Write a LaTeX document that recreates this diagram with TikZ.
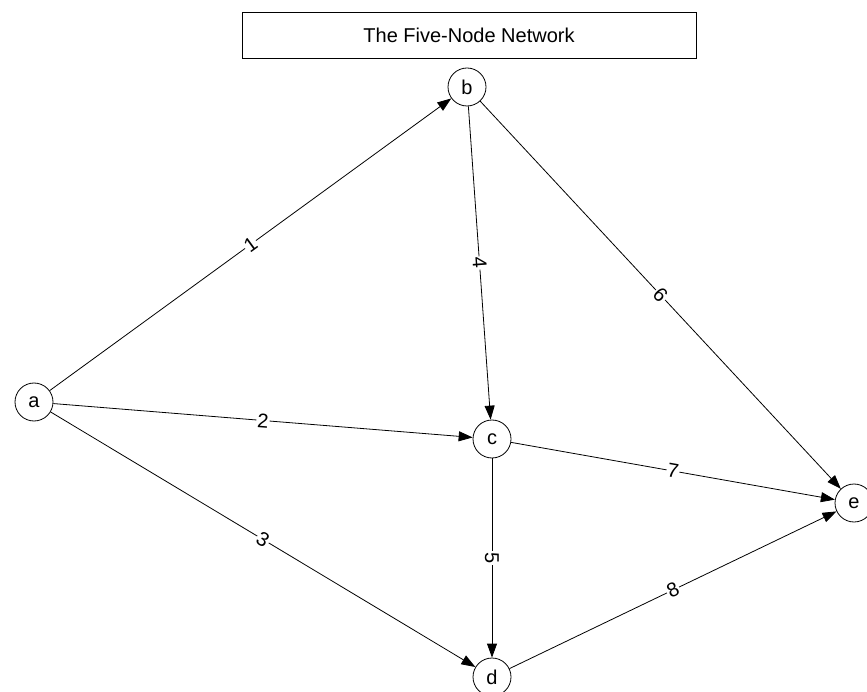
\documentclass[tikz,border=0pt]{standalone}
\usepackage{fontspec}
\setmainfont{Liberation Sans}
\usetikzlibrary{arrows.meta}
\begin{document}
\begin{tikzpicture}[x=1pt,y=-1pt,
  vert/.style={circle,draw,line width=0.8pt,minimum size=38pt,inner sep=0pt,font=\fontsize{20}{24}\selectfont},
  edge/.style={line width=0.8pt,-{Triangle[length=14pt,width=10pt]}},
  lbl/.style={fill=white,inner sep=1pt,sloped,font=\fontsize{20}{24}\selectfont},
  titlebox/.style={draw,line width=0.8pt,minimum width=454pt,minimum height=46pt,inner sep=0pt,font=\fontsize{20}{24}\selectfont}]
\useasboundingbox (0,0) rectangle (867,692);
\node[titlebox] (title) at (469,35) {The Five-Node Network};
\node[vert] (a) at (34,402) {a};
\node[vert] (b) at (467,87) {b};
\node[vert] (c) at (492,439) {c};
\node[vert] (d) at (492,677) {d};
\node[vert] (e) at (854,503) {e};
\draw[edge] (a) -- node[lbl]{1} (b);
\draw[edge] (a) -- node[lbl]{2} (c);
\draw[edge] (a) -- node[lbl]{3} (d);
\draw[edge] (b) -- node[lbl]{4} (c);
\draw[edge] (c) -- node[lbl]{5} (d);
\draw[edge] (b) -- node[lbl]{6} (e);
\draw[edge] (c) -- node[lbl]{7} (e);
\draw[edge] (d) -- node[lbl]{8} (e);
\end{tikzpicture}
\end{document}
